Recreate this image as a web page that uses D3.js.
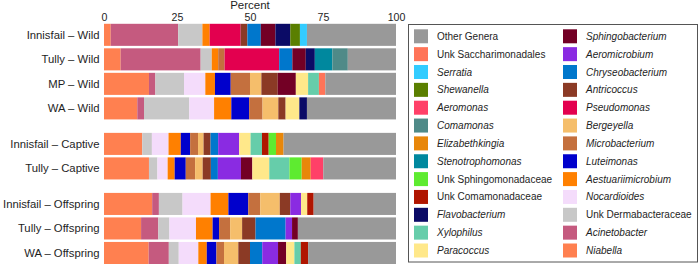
<!DOCTYPE html>
<html>
<head>
    <title>Genus composition</title>
    <script type="text/javascript" src="https://d3js.org/d3.v7.min.js"></script>
    <style>
	body {
		margin: 0;
		background: #fff;
		font-family: "Liberation Sans", Arial, sans-serif;
	}
	.rowlab {
		font-size: 11.3px;
		fill: #1e1e1e;
	}
	.ticklab {
		font-size: 10.6px;
		fill: #1e1e1e;
	}
	.axtitle {
		font-size: 11.5px;
		fill: #1e1e1e;
	}
	.leglab {
		font-size: 10px;
		fill: #1e1e1e;
	}
    </style>
</head>
<body>
<script>

// ---------------------------- data -------------------------------------
// legend order (top-to-bottom, column 1 then column 2)
var genera = [
	"Other Genera", "Unk Saccharimonadales", "Serratia", "Shewanella", "Aeromonas",
	"Comamonas", "Elizabethkingia", "Stenotrophomonas", "Unk Sphingomonadaceae",
	"Unk Comamonadaceae", "Flavobacterium", "Xylophilus", "Paracoccus",
	"Sphingobacterium", "Aeromicrobium", "Chryseobacterium", "Antricoccus",
	"Pseudomonas", "Bergeyella", "Microbacterium", "Luteimonas",
	"Aestuariimicrobium", "Nocardioides", "Unk Dermabacteraceae", "Acinetobacter", "Niabella"
];
var genusColors = [
	"#999999", "#FF7458", "#33CCFF", "#5A7F00", "#FF4068",
	"#4F8A88", "#E8870A", "#00889E", "#5EEB30",
	"#B01500", "#0B0B66", "#66CDAA", "#FFE88A",
	"#730025", "#8A2BE2", "#0077CC", "#8B3A25",
	"#E3004F", "#F5BE6B", "#C4703E", "#0000CC",
	"#FF8000", "#F4DCFB", "#C8C8C8", "#C55A7F", "#FF8050"
];

var samples = [
	"Innisfail – Wild", "Tully – Wild", "MP – Wild", "WA – Wild",
	"Innisfail – Captive", "Tully – Captive",
	"Innisfail – Offspring", "Tully – Offspring", "WA – Offspring"
];
var sampleGroup = [0, 0, 0, 0, 1, 1, 2, 2, 2];

var xTicks = [0, 25, 50, 75, 100];

// percent per genus, one list per sample
var innisfailWild = [["Niabella",2.3],["Acinetobacter",23.1],["Unk Dermabacteraceae",8.3],["Aestuariimicrobium",2.5],
	["Pseudomonas",10.6],["Antricoccus",2.3],["Chryseobacterium",4.6],["Sphingobacterium",5.0],
	["Flavobacterium",5.1],["Shewanella",3.3],["Serratia",2.4],["Other Genera",30.5]];
var tullyWild = [["Niabella",5.7],["Acinetobacter",27.4],["Unk Dermabacteraceae",3.8],["Aestuariimicrobium",2.2],
	["Microbacterium",2.2],["Pseudomonas",18.7],["Chryseobacterium",4.5],["Sphingobacterium",4.6],
	["Flavobacterium",3.1],["Stenotrophomonas",6.0],["Comamonas",5.3],["Other Genera",16.5]];
var mpWild = [["Niabella",15.4],["Acinetobacter",2.2],["Unk Dermabacteraceae",9.8],["Nocardioides",7.3],
	["Aestuariimicrobium",3.3],["Luteimonas",5.4],["Microbacterium",6.6],["Bergeyella",3.9],
	["Antricoccus",5.6],["Sphingobacterium",6.2],["Paracoccus",4.2],["Xylophilus",3.7],
	["Unk Saccharimonadales",2.2],["Other Genera",24.2]];
var waWild = [["Niabella",11.4],["Acinetobacter",2.3],["Unk Dermabacteraceae",15.5],["Nocardioides",8.5],
	["Aestuariimicrobium",5.9],["Luteimonas",6.1],["Microbacterium",4.6],["Bergeyella",5.4],
	["Antricoccus",2.5],["Paracoccus",4.7],["Flavobacterium",2.6],["Other Genera",30.5]];
var innisfailCaptive = [["Niabella",13.1],["Unk Dermabacteraceae",3.3],["Nocardioides",5.7],["Aestuariimicrobium",4.2],
	["Luteimonas",3.2],["Microbacterium",2.7],["Bergeyella",1.9],["Antricoccus",2.4],
	["Chryseobacterium",2.6],["Aeromicrobium",7.2],["Paracoccus",3.9],["Xylophilus",3.9],
	["Unk Comamonadaceae",2.3],["Unk Sphingomonadaceae",2.5],["Elizabethkingia",2.6],["Other Genera",38.5]];
var tullyCaptive = [["Niabella",15.4],["Unk Dermabacteraceae",2.9],["Nocardioides",3.5],["Aestuariimicrobium",2.4],
	["Luteimonas",3.8],["Microbacterium",3.2],["Bergeyella",2.6],["Antricoccus",2.8],
	["Chryseobacterium",2.4],["Aeromicrobium",7.9],["Sphingobacterium",3.9],["Paracoccus",5.8],
	["Xylophilus",6.9],["Unk Sphingomonadaceae",4.2],["Elizabethkingia",3.1],["Aeromonas",4.3],["Other Genera",24.9]];
var innisfailOffspring = [["Niabella",16.5],["Acinetobacter",2.3],["Unk Dermabacteraceae",8.1],["Nocardioides",9.6],
	["Aestuariimicrobium",6.1],["Luteimonas",6.8],["Microbacterium",4.1],["Bergeyella",6.7],
	["Antricoccus",3.6],["Aeromicrobium",3.7],["Paracoccus",2.1],["Unk Comamonadaceae",2.2],["Other Genera",28.2]];
var tullyOffspring = [["Niabella",12.7],["Acinetobacter",5.9],["Unk Dermabacteraceae",3.8],["Nocardioides",9.1],
	["Aestuariimicrobium",5.7],["Luteimonas",2.2],["Microbacterium",3.8],["Bergeyella",4.1],
	["Antricoccus",4.6],["Chryseobacterium",10.3],["Aeromicrobium",2.2],["Sphingobacterium",2.0],["Other Genera",33.6]];
var waOffspring = [["Niabella",15.3],["Acinetobacter",6.9],["Unk Dermabacteraceae",3.4],["Nocardioides",6.7],
	["Aestuariimicrobium",2.9],["Luteimonas",3.3],["Microbacterium",2.6],["Bergeyella",4.9],
	["Antricoccus",4.0],["Chryseobacterium",4.2],["Aeromicrobium",5.4],["Sphingobacterium",2.8],
	["Paracoccus",2.8],["Xylophilus",2.2],["Unk Comamonadaceae",2.5],["Other Genera",30.1]];

var sampleValues = [innisfailWild, tullyWild, mpWild, waWild, innisfailCaptive, tullyCaptive,
	innisfailOffspring, tullyOffspring, waOffspring];

// ---------------------------- chart ------------------------------------
var width = 700, height = 264;
var groupGap = 11;

var svg = d3.select("body").append("svg")
	.attr("width", width)
	.attr("height", height);

var colorScale = d3.scaleOrdinal().domain(genera).range(genusColors);
var xScale = d3.scaleLinear().domain([0, 100]).range([104, 396]);
var yScale = d3.scaleBand().domain(samples).range([23.8, 242]).paddingInner(0.1).paddingOuter(0);

function rowTop(name) {
	var i = samples.indexOf(name);
	return yScale(name) + sampleGroup[i] * groupGap;
}

// stacking goes in reverse legend order (Niabella first, Other last)
var stackKeys = genera.slice().reverse();
var table = samples.map(function (s, i) {
	var row = { sample: s };
	stackKeys.forEach(function (k) { row[k] = 0; });
	sampleValues[i].forEach(function (p) { row[p[0]] = p[1]; });
	return row;
});
var series = d3.stack().keys(stackKeys)(table);

var layers = svg.append("g").selectAll("g")
	.data(series)
	.enter().append("g")
	.attr("fill", function (d) { return colorScale(d.key); });

layers.selectAll("rect")
	.data(function (d) { return d.filter(function (v) { return v[1] - v[0] > 0; }); })
	.enter().append("rect")
	.attr("x", function (d) { return xScale(d[0]); })
	.attr("width", function (d) { return xScale(d[1]) - xScale(d[0]); })
	.attr("y", function (d) { return rowTop(d.data.sample); })
	.attr("height", yScale.bandwidth());

// row labels
svg.append("g").selectAll("text")
	.data(samples)
	.enter().append("text")
	.attr("class", "rowlab")
	.attr("x", 99.5)
	.attr("y", function (d) { return rowTop(d) + yScale.bandwidth() / 2; })
	.attr("dy", "0.35em")
	.attr("text-anchor", "end")
	.text(function (d) { return d; });

// top axis, labels only
var xAxis = d3.axisTop(xScale).tickValues(xTicks).tickSize(0).tickPadding(3);
var axisG = svg.append("g").attr("transform", "translate(0,24)").call(xAxis);
axisG.select(".domain").remove();
axisG.selectAll("text").attr("class", "ticklab").attr("fill", null).attr("font-size", null).attr("font-family", null);

svg.append("text").attr("class", "axtitle")
	.attr("x", xScale(50)).attr("y", 9)
	.attr("text-anchor", "middle")
	.text("Percent");

// legend
var legend = svg.append("g");
legend.append("rect")
	.attr("x", 408.5).attr("y", 24.5)
	.attr("width", 289).attr("height", 237.5)
	.attr("fill", "#fff").attr("stroke", "#555").attr("stroke-width", 1);

var perCol = 13, legStep = 17.85;
var legItems = legend.selectAll("g.item")
	.data(genera)
	.enter().append("g")
	.attr("class", "item")
	.attr("transform", function (d, i) {
		var col = Math.floor(i / perCol), r = i % perCol;
		return "translate(" + (414 + col * 149) + "," + (29.3 + r * legStep) + ")";
	});

legItems.append("rect")
	.attr("width", 14).attr("height", 14)
	.attr("fill", function (d) { return colorScale(d); });

legItems.append("text")
	.attr("class", "leglab")
	.attr("x", 23).attr("y", 7)
	.attr("dy", "0.35em")
	.attr("font-style", function (d) { return (d == "Other Genera" || d.indexOf("Unk ") == 0) ? "normal" : "italic"; })
	.text(function (d) { return d; });

</script>
</body>
</html>
